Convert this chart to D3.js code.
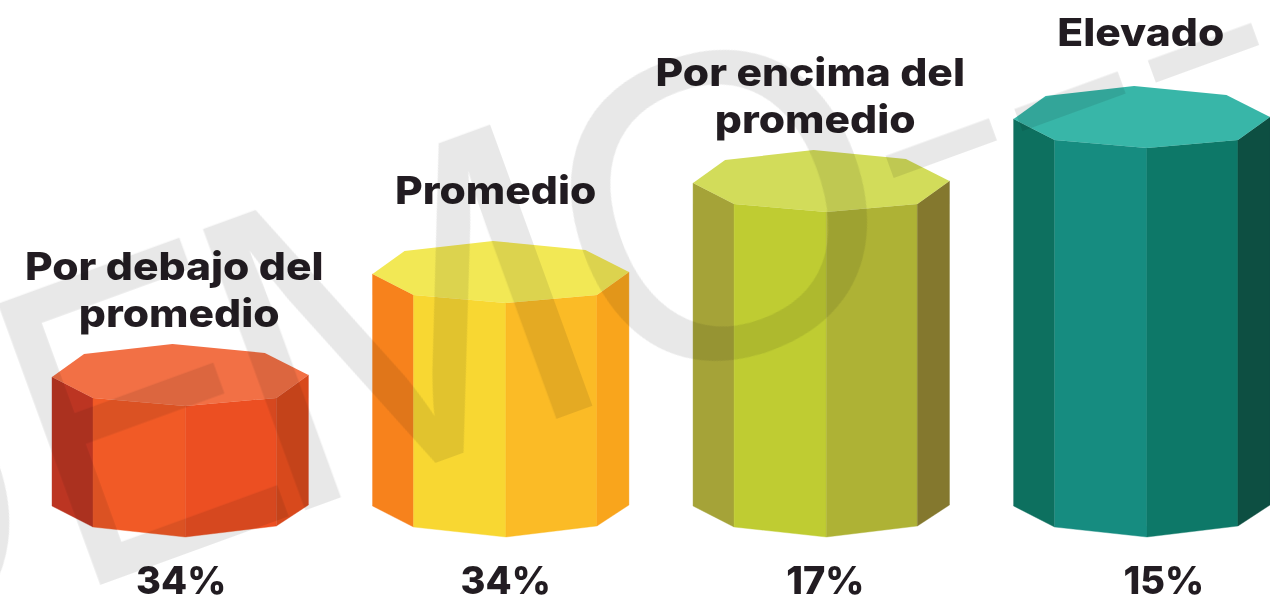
<!DOCTYPE html>
<html>
<head>
<meta charset="utf-8">
<script src="https://cdn.jsdelivr.net/npm/d3@7"></script>
<style>
  html, body { margin: 0; padding: 0; background: #fff; overflow: hidden; }
  svg { display: block; }
  text { font-family: Inter, "Liberation Sans", sans-serif; font-weight: 700; fill: #231f20; }
  .watermark text { font-family: "Liberation Sans", sans-serif; font-weight: 400; fill: #e8e8e8; }
  .watermark { mix-blend-mode: multiply; }
</style>
</head>
<body>
<script>
const categories = ['Por debajo del promedio', 'Promedio', 'Por encima del promedio', 'Elevado'];
const categoryLines = [['Por debajo del', 'promedio'], ['Promedio'], ['Por encima del', 'promedio'], ['Elevado']];
const percents = [34, 34, 17, 15];
// height of each column as drawn, it does not follow the percent
const columnHeights = [131, 234, 325, 389];

const topColors = ['#f26f45', '#f2e854', '#d2dc5a', '#38b6a8'];
const leftColors = ['#bc3522', '#f7821f', '#a5a338', '#10705f'];
const frontLeftColors = ['#f15a27', '#f8d733', '#bfcc32', '#188c80'];
const frontRightColors = ['#ec5022', '#fbbb25', '#aeb236', '#0e7868'];
const rightColors = ['#d8481f', '#f9a51f', '#84782e', '#0c4f42'];

const stampLetters = ['D', 'E', 'M', 'O'];
const stampOffsets = [-347, -30, 181, 548];
const stampDrops = [0, 0, 0, 5];
const stampStretch = [1, 0.85, 1.05, 0.97];
const stampDashes = [880, 1017, 1159];

const width = 1270, height = 598;

const x = d3.scaleBand().domain(categories).range([52, 1270]).paddingInner(0.2);
const y = d3.scaleLinear().domain([0, d3.max(columnHeights)]).range([537, 148]);
const line = d3.line();

const svg = d3.select('body').append('svg').attr('width', width).attr('height', height);
svg.append('defs').append('filter').attr('id', 'soft')
  .append('feGaussianBlur').attr('stdDeviation', 0.5);

const chart = svg.append('g').attr('filter', 'url(#soft)');

// outline of the octagon, u across the column, v up from the front corner
const topRing = [[0, 29], [0.125, 52], [0.47, 62], [0.83, 53], [1, 31], [0.875, 8], [0.52, 0], [0.16, 8]];
const bottomEdge = {left: [0, 31], frontLeft: [0.16, 10], front: [0.52, 0], frontRight: [0.875, 11], right: [1, 32]};

const columns = chart.selectAll('g.column').data(categories).join('g').attr('class', 'column');

columns.each(function(d, i) {
  const g = d3.select(this);
  const u = d3.scaleLinear().domain([0, 1]).range([x(d), x(d) + x.bandwidth()]);
  const topY = y(columnHeights[i]), baseY = y(0);
  const up = p => [u(p[0]), topY - p[1]];
  const down = p => [u(p[0]), baseY - p[1]];
  const face = (a, b, c, e, fill) => g.append('path')
    .attr('d', line([up(a), up(b), down(c), down(e)]) + 'Z')
    .attr('fill', fill).attr('stroke', fill).attr('stroke-width', 0.4);

  face(topRing[0], topRing[7], bottomEdge.frontLeft, bottomEdge.left, leftColors[i]);
  face(topRing[7], topRing[6], bottomEdge.front, bottomEdge.frontLeft, frontLeftColors[i]);
  face(topRing[6], topRing[5], bottomEdge.frontRight, bottomEdge.front, frontRightColors[i]);
  face(topRing[5], topRing[4], bottomEdge.right, bottomEdge.frontRight, rightColors[i]);
  g.append('path').attr('d', line(topRing.map(up)) + 'Z').attr('fill', topColors[i]);

  // labels sit above the highest point of the top face
  const labelNudge = [[-6, -1], [-5], [-11, -6], [-1]][i];
  const labelLift = [17, 37, 17, 40][i];
  const lines = categoryLines[i];
  lines.forEach((t, k) => {
    const label = g.append('text')
      .attr('x', x(d) + x.bandwidth() / 2 + labelNudge[k])
      .attr('y', topY - 62 - labelLift - (lines.length - 1 - k) * 47)
      .attr('text-anchor', 'middle')
      .attr('font-size', 38)
      .style('font-weight', 800)
      .text(t);
    // the installed sans is narrower than the original, stretch it
    label.attr('textLength', label.node().getComputedTextLength() * 1.12)
      .attr('lengthAdjust', 'spacingAndGlyphs');
  });

  const percentNudge = [1, 5, 4, 22][i];
  g.append('text')
    .attr('x', x(d) + x.bandwidth() / 2 + percentNudge)
    .attr('y', 594)
    .attr('text-anchor', 'middle')
    .attr('font-size', 38)
    .style('font-weight', 800)
    .text(d3.format('d')(percents[i]) + '%');
});

// grey DEMO stamp laid over everything
const stamp = svg.append('g').attr('class', 'watermark').attr('filter', 'url(#soft)')
  .attr('transform', 'translate(100,585) rotate(-20)');
stamp.selectAll('text.letter').data(stampLetters).join('text')
  .attr('class', 'letter')
  .attr('font-size', 435)
  .attr('transform', (d, i) => `translate(${stampOffsets[i]},${stampDrops[i]}) scale(${stampStretch[i]},1)`)
  .text(d => d);
stamp.selectAll('text.dash').data(stampDashes).join('text')
  .attr('class', 'dash')
  .attr('font-size', 300)
  .attr('transform', d => `translate(${d - 15},-43) scale(1.5,1)`)
  .text('-');
</script>
</body>
</html>
